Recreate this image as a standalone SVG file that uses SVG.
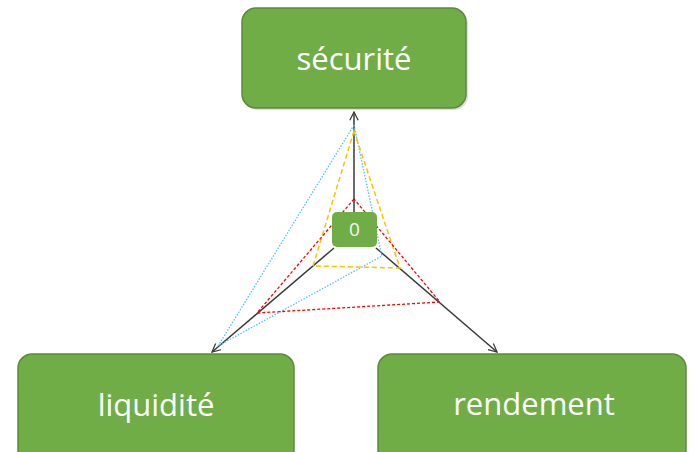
<svg xmlns="http://www.w3.org/2000/svg" width="696" height="452" viewBox="0 0 696 452">
<style>
.box{fill:#70ad47;stroke:#5b8a3c;stroke-width:1.5}
.shadow{fill:#c9c9c9;opacity:0.6}
.lbl{font-family:"Open Sans","Liberation Sans",sans-serif;font-size:31px;fill:#ffffff;text-anchor:middle}
.num{font-family:"Open Sans","Liberation Sans",sans-serif;font-size:19px;fill:#f4f4f4;text-anchor:middle}
.axis{stroke:#3a3a3a;stroke-width:1.5;fill:none}
.blue{stroke:#4fc3f0;stroke-width:1.3;stroke-dasharray:1.5 1.5;fill:none}
.yellow{stroke:#ffc000;stroke-width:1.5;stroke-dasharray:5 3;fill:none}
.red{stroke:#ff0000;stroke-width:1.3;stroke-dasharray:3 2;fill:none}
</style>
<defs>
<marker id="arr" viewBox="0 0 12 12" refX="11" refY="6" markerWidth="10" markerHeight="10" markerUnits="userSpaceOnUse" orient="auto">
<path d="M1,1 L11,6 L1,11" fill="none" stroke="#3a3a3a" stroke-width="1.5"/>
</marker>
</defs>
<g id="connectors">
<line class="axis" x1="354" y1="212" x2="354" y2="112" stroke-width="2" marker-end="url(#arr)"/>
<line class="axis" x1="334" y1="248" x2="212" y2="352" marker-end="url(#arr)"/>
<line class="axis" x1="376" y1="248" x2="497" y2="352" marker-end="url(#arr)"/>
<polygon class="blue" points="354,125 381,252 382,256 218,346"/>
<polygon class="yellow" points="354,131 313,266 400,268"/>
<polygon class="red" points="354,199 257,313 440,302"/>
</g>
<g id="securite">
<rect class="shadow" x="244" y="10" width="224" height="100" rx="14"/>
<rect class="box" x="242" y="8" width="224" height="100" rx="14"/>
<text class="lbl" x="354" y="70">sécurité</text>
</g>
<g id="liquidite">
<rect class="box" x="18" y="354" width="276" height="110" rx="14"/>
<text class="lbl" x="156" y="416">liquidité</text>
</g>
<g id="rendement">
<rect class="box" x="378" y="354" width="308" height="110" rx="14"/>
<text class="lbl" x="534" y="415">rendement</text>
</g>
<g id="zero">
<rect x="332" y="212" width="45" height="35" rx="5" fill="#70ad47"/>
<text class="num" x="354.5" y="236">0</text>
</g>
</svg>
